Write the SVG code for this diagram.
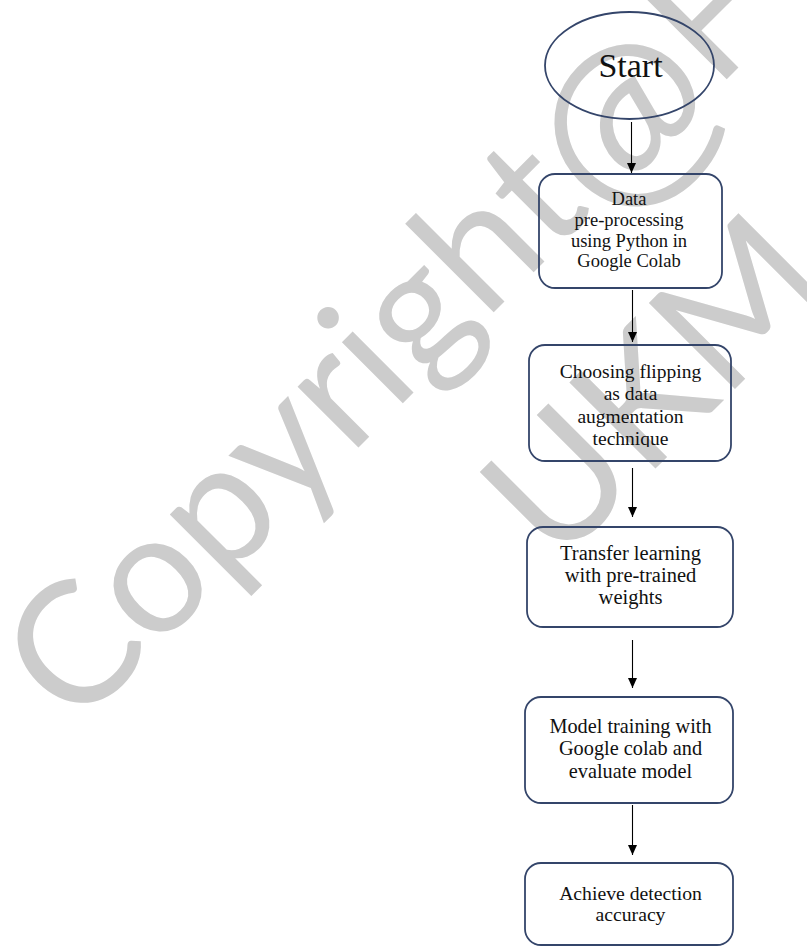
<svg xmlns="http://www.w3.org/2000/svg" width="807" height="949" viewBox="0 0 807 949">
<defs>
<marker id="ah" markerWidth="10" markerHeight="10" refX="10" refY="5" orient="auto" markerUnits="userSpaceOnUse"><path d="M0,0.5 L10,5 L0,9.5 z" fill="#000"/></marker>
<clipPath id="c2"><rect x="529" y="345" width="202" height="102"/></clipPath>
</defs>
<style>
.wm{font-family:Lato,"Open Sans",sans-serif;font-size:170px;fill:#cccccc}
.box{fill:none;stroke:#34456a;stroke-width:1.8}
.t{font-family:"Liberation Serif","Times New Roman",serif;fill:#111;text-anchor:middle}
.conn line{stroke:#000;stroke-width:1.1;marker-end:url(#ah)}
</style>
<rect width="807" height="949" fill="#fff"/>
<g id="watermark">
<text class="wm" x="75" y="731" transform="rotate(-45 75 731)">Copyright<tspan font-size="205" dy="25">@</tspan><tspan dy="-25">FTSM</tspan></text>
<text class="wm" x="556" y="568" font-size="172" transform="rotate(-45 556 568)">UKM</text>
</g>
<g id="connectors" class="conn">
<line x1="631.5" y1="122" x2="631.5" y2="173"/>
<line x1="632.5" y1="290" x2="632.5" y2="342"/>
<line x1="632.5" y1="468" x2="632.5" y2="517"/>
<line x1="632.5" y1="640" x2="632.5" y2="688"/>
<line x1="632.5" y1="805" x2="632.5" y2="855"/>
</g>
<g id="start">
<ellipse cx="629.5" cy="65.5" rx="84.5" ry="53.5" class="box"/>
<text class="t" x="630.5" y="77" font-size="34">Start</text>
</g>
<g id="preprocess">
<rect x="539" y="174" width="183" height="114" rx="16" class="box"/>
<text class="t" font-size="18.5"><tspan x="629" y="205">Data</tspan><tspan x="629" y="225.7">pre-processing</tspan><tspan x="629" y="246.5">using Python in</tspan><tspan x="629" y="267">Google Colab</tspan></text>
</g>
<g id="augmentation">
<rect x="529" y="345" width="202" height="116" rx="16" class="box"/>
<text class="t" font-size="19.5" clip-path="url(#c2)"><tspan x="630.5" y="378">Choosing flipping</tspan><tspan x="630.5" y="400">as data</tspan><tspan x="630.5" y="423">augmentation</tspan><tspan x="630.5" y="445">technique</tspan></text>
</g>
<g id="transfer">
<rect x="527" y="527" width="206" height="100" rx="16" class="box"/>
<text class="t" font-size="20.5"><tspan x="630.5" y="560">Transfer learning</tspan><tspan x="630.5" y="582">with pre-trained</tspan><tspan x="630.5" y="604">weights</tspan></text>
</g>
<g id="training">
<rect x="525" y="697" width="208" height="106" rx="16" class="box"/>
<text class="t" font-size="20.3"><tspan x="630.5" y="733">Model training with</tspan><tspan x="630.5" y="755">Google colab and</tspan><tspan x="630.5" y="778">evaluate model</tspan></text>
</g>
<g id="accuracy">
<rect x="525" y="863" width="208" height="82" rx="16" class="box"/>
<text class="t" font-size="19.7"><tspan x="630.5" y="900">Achieve detection</tspan><tspan x="630.5" y="921">accuracy</tspan></text>
</g>
</svg>
